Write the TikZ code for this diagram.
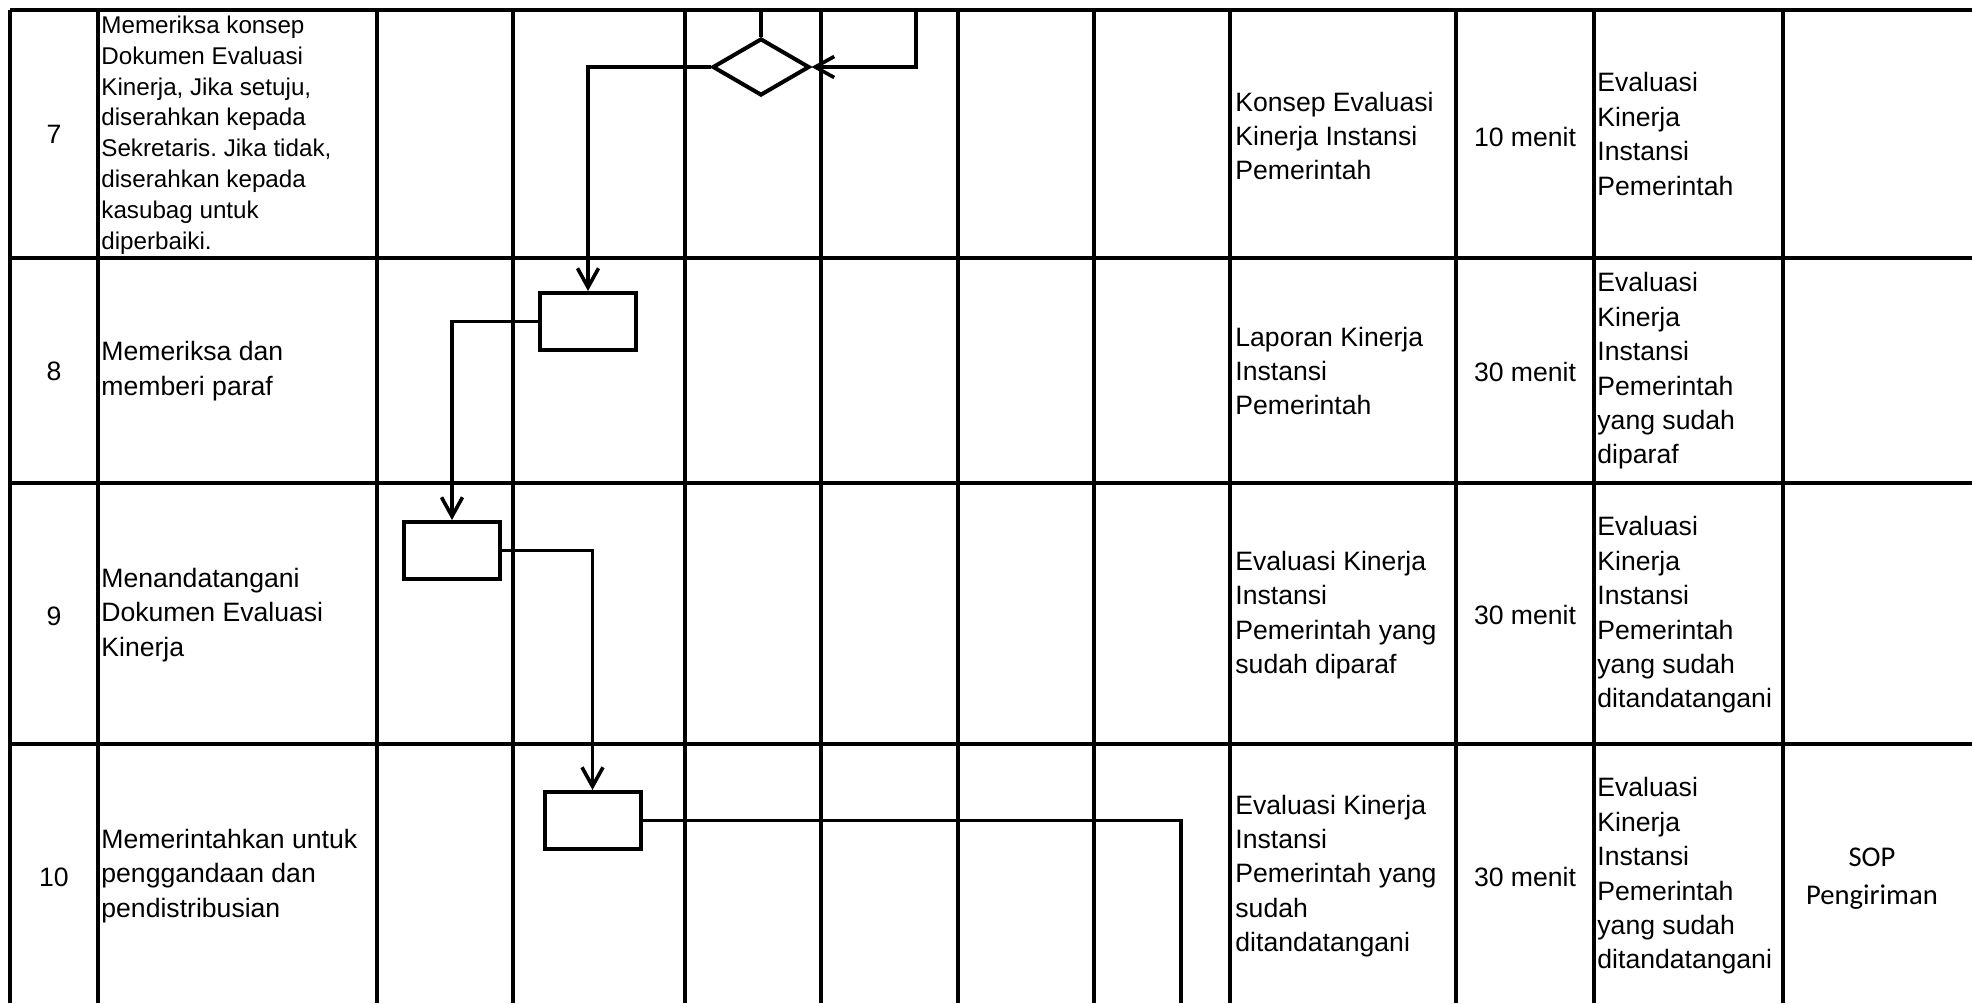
\documentclass[tikz,border=0pt]{standalone}
\usepackage{fontspec}
\setmainfont{Liberation Sans}
\newfontfamily\sopfont{Carlito}
\usetikzlibrary{arrows.meta,shapes.geometric}
\frenchspacing
\begin{document}
\begin{tikzpicture}[x=0.5pt,y=-0.5pt,
  grid/.style={line width=1.75pt},
  flow/.style={line width=1.8pt},
  arr/.style={flow,-{Straight Barb[length=9.5pt,width=10.5pt]}},
  procbox/.style={draw,line width=2pt,rectangle,minimum width=48pt,minimum height=28.5pt,inner sep=0pt},
  decbox/.style={draw,line width=2pt,diamond,minimum width=48.5pt,minimum height=28.5pt,inner sep=0pt},
  celltxt/.style={anchor=west,align=left,inner sep=0pt,font=\fontsize{13.3pt}{17.2pt}\selectfont},
  smalltxt/.style={anchor=west,align=left,inner sep=0pt,font=\fontsize{12.1pt}{15.4pt}\selectfont},
  numtxt/.style={inner sep=0pt,font=\fontsize{13.3pt}{17.2pt}\selectfont},
  soptxt/.style={inner sep=0pt,align=center,font=\sopfont\fontsize{14.3pt}{19pt}\selectfont}]
\useasboundingbox (0,0) rectangle (1972,1003);
\fill[white] (0,0) rectangle (1972,1003);

% grid
\foreach \xx in {10,98,377,513,685,821,958,1094,1230,1456,1594,1783}
  \draw[grid] (\xx,10) -- (\xx,1003);
\foreach \yy in {10,258,483,744}
  \draw[grid] (10,\yy) -- (1972,\yy);

% row 7
\node[numtxt] (n7) at (54,134) {7};
\node[smalltxt] (a7) at (101,135) {Memeriksa konsep\\Dokumen Evaluasi\\Kinerja, Jika setuju,\\diserahkan kepada\\Sekretaris. Jika tidak,\\diserahkan kepada\\kasubag untuk\\diperbaiki.};
\node[celltxt] (k7) at (1235,136) {Konsep Evaluasi\\Kinerja Instansi\\Pemerintah};
\node[numtxt] (w7) at (1525,137) {10 menit};
\node[celltxt] (o7) at (1597,134) {Evaluasi\\Kinerja\\Instansi\\Pemerintah};

% row 8
\node[numtxt] (n8) at (54,371) {8};
\node[celltxt] (a8) at (101,371) {Memeriksa dan\\memberi paraf};
\node[celltxt] (k8) at (1235,371) {Laporan Kinerja\\Instansi\\Pemerintah};
\node[numtxt] (w8) at (1525,372) {30 menit};
\node[celltxt] (o8) at (1597,371) {Evaluasi\\Kinerja\\Instansi\\Pemerintah\\yang sudah\\diparaf};

% row 9
\node[numtxt] (n9) at (54,616) {9};
\node[celltxt] (a9) at (101,615) {Menandatangani\\Dokumen Evaluasi\\Kinerja};
\node[celltxt] (k9) at (1235,615) {Evaluasi Kinerja\\Instansi\\Pemerintah yang\\sudah diparaf};
\node[numtxt] (w9) at (1525,615) {30 menit};
\node[celltxt] (o9) at (1597,615) {Evaluasi\\Kinerja\\Instansi\\Pemerintah\\yang sudah\\ditandatangani};

% row 10
\node[numtxt] (n10) at (54,877) {10};
\node[celltxt] (a10) at (101,876) {Memerintahkan untuk\\penggandaan dan\\pendistribusian};
\node[celltxt] (k10) at (1235,876) {Evaluasi Kinerja\\Instansi\\Pemerintah yang\\sudah\\ditandatangani};
\node[numtxt] (w10) at (1525,877) {30 menit};
\node[celltxt] (o10) at (1597,876) {Evaluasi\\Kinerja\\Instansi\\Pemerintah\\yang sudah\\ditandatangani};
\node[soptxt] (s10) at (1872,879) {SOP\\Pengiriman};

% flow shapes
\node[decbox] (d7) at (761,67) {};
\node[procbox] (b8) at (588,321.5) {};
\node[procbox] (b9) at (452,550.5) {};
\node[procbox] (b10) at (592.5,820.5) {};
\coordinate (t1) at (761,10);
\coordinate (t2) at (916,10);
\coordinate (e10) at (1181,1003);

\draw[flow] (t1) -- (d7.north);
\draw[arr] (t2) |- (d7.east);
\draw[arr] (d7.west) -| (b8.north);
\draw[arr] (b8.west) -| (b9.north);
\draw[arr] (b9.east) -| (b10.north);
\draw[flow] (b10.east) -| (e10);
\end{tikzpicture}
\end{document}
